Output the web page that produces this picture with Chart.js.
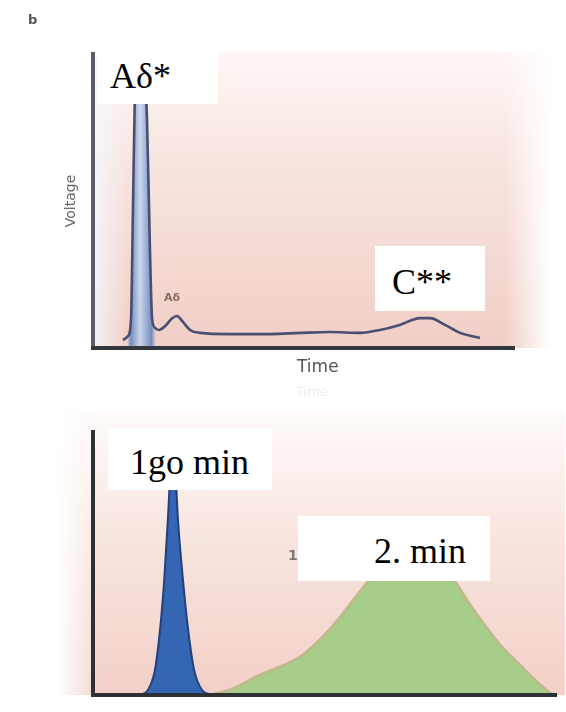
<!DOCTYPE html>
<html>
<head>
<meta charset="utf-8">
<script src="https://cdn.jsdelivr.net/npm/chart.js@4/dist/chart.umd.min.js"></script>
<style>
  html, body { margin:0; padding:0; background:#fff; }
  #wrap { position:relative; width:566px; height:712px; overflow:hidden; background:#fff; }
  canvas { position:absolute; left:0; }
  .lbl { position:absolute; white-space:nowrap; }
  .box { position:absolute; background:#fff; font-family:"Liberation Serif","Times New Roman",serif; font-size:36px; color:#000; line-height:1; }
</style>
</head>
<body>
<div id="wrap">
  <canvas id="top" width="566" height="400" style="top:0"></canvas>
  <canvas id="bot" width="566" height="332" style="top:380px"></canvas>

  <div class="lbl" style="left:28px;top:12px;font:bold 13px 'DejaVu Sans',sans-serif;color:#555;">b</div>
  <div class="lbl" style="left:36px;top:193px;width:68px;text-align:center;font:14px 'DejaVu Sans',sans-serif;color:#666;transform:rotate(-90deg);">Voltage</div>
  <div class="lbl" style="left:297px;top:356px;font:17px 'DejaVu Sans',sans-serif;color:#555;">Time</div>
  <div class="lbl" style="left:296px;top:384px;font:13px 'DejaVu Sans',sans-serif;color:#eee;">Time</div>
  <div class="lbl" style="left:164px;top:291px;font:bold 11px 'DejaVu Sans',sans-serif;color:#8a6a5e;">Aδ</div>
  <div class="lbl" style="left:288px;top:547px;font:bold 14px 'DejaVu Sans',sans-serif;color:#777;">1</div>

  <div class="box" style="left:97px;top:42px;width:121px;height:62px;"><span style="position:absolute;left:13px;top:16px;">Aδ*</span></div>
  <div class="box" style="left:375px;top:246px;width:110px;height:65px;"><span style="position:absolute;left:17px;top:18px;">C**</span></div>
  <div class="box" style="left:108px;top:428px;width:164px;height:62px;"><span style="position:absolute;left:22px;top:16px;">1go min</span></div>
  <div class="box" style="left:298px;top:516px;width:192px;height:65px;"><span style="position:absolute;left:76px;top:17px;">2. min</span></div>
</div>
<script>
// ---- Data (top panel: compound action potential) ----
const topTime    = [7.1, 8.3, 9.0, 9.5, 9.9, 10.7, 11.8, 12.8, 13.5, 14.0, 14.7, 15.6, 17.1, 18.7, 19.9, 21.3, 23.0, 25.4, 32.5, 41.9, 49.1, 56.2, 63.3, 68.0, 72.7, 77.5, 79.9, 83.4, 87.0, 91.7];
const topVoltage = [2.7, 4.0, 9.5, 50, 84, 100, 100, 77, 33, 10, 6.8, 6.1, 7.4, 10, 10.8, 8.8, 6.1, 5.1, 4.7, 4.7, 5.1, 5.4, 5.1, 6.1, 7.8, 10.1, 10.1, 7.8, 5.1, 3.4];

// ---- Data (bottom panel: fast and slow pain) ----
const fastTime  = [10.2, 11.9, 13.4, 14.5, 15.4, 16.2, 16.9, 17.3, 17.7, 18.4, 19.5, 20.6, 21.9, 23.6, 25.8];
const fastValue = [0, 1.9, 9.4, 24.5, 43, 66, 89, 96, 89, 66, 43, 24.5, 9.4, 1.9, 0];
const slowTime  = [25.3, 29.7, 36.1, 44.8, 49.1, 53.5, 56.7, 60.0, 64.3, 70.0, 75.0, 78.0, 81.6, 84.4, 88.1, 92.4, 96.8, 99.4];
const slowValue = [0, 1.9, 7.5, 14.3, 20.8, 29.4, 36.6, 43.5, 48, 49, 48, 43.5, 34, 27.2, 18.9, 11.3, 3.8, 0];

function pts(xs, ys){ return xs.map((x,i)=>({x:x, y:ys[i]})); }

const bgTop = {
  id:'bgTop',
  beforeDraw(chart){
    const c = chart.ctx, a = chart.chartArea;
    c.save();
    const g = c.createLinearGradient(0, a.top, 0, a.bottom);
    g.addColorStop(0, '#fdf7f5');
    g.addColorStop(0.35, '#f8e6e1');
    g.addColorStop(1, '#f0cec6');
    c.fillStyle = g;
    c.fillRect(a.left, a.top, a.right - a.left + 35, a.bottom - a.top);
    const h = c.createLinearGradient(a.right - 10, 0, a.right + 35, 0);
    h.addColorStop(0, 'rgba(255,255,255,0)');
    h.addColorStop(1, 'rgba(255,255,255,1)');
    c.fillStyle = h;
    c.fillRect(a.right - 10, a.top, 45, a.bottom - a.top);
    const l = c.createLinearGradient(a.left, 0, a.left + 35, 0);
    l.addColorStop(0, 'rgba(245,248,255,0.85)');
    l.addColorStop(1, 'rgba(245,248,255,0)');
    c.fillStyle = l;
    c.fillRect(a.left, a.top, 35, a.bottom - a.top);
    c.restore();
  },
  afterDatasetsDraw(chart){
    const c = chart.ctx, a = chart.chartArea;
    c.save();
    c.lineCap = 'butt';
    c.strokeStyle = '#5c5c66'; c.lineWidth = 4;
    c.beginPath(); c.moveTo(a.left, a.top); c.lineTo(a.left, a.bottom + 2); c.stroke();
    c.strokeStyle = '#33363a'; c.lineWidth = 4;
    c.beginPath(); c.moveTo(a.left - 2, a.bottom); c.lineTo(a.right, a.bottom); c.stroke();
    c.restore();
  }
};

const bgBot = {
  id:'bgBot',
  beforeDraw(chart){
    const c = chart.ctx, a = chart.chartArea;
    c.save();
    const g = c.createLinearGradient(0, a.top - 20, 0, a.bottom);
    g.addColorStop(0, '#fefbfa');
    g.addColorStop(0.4, '#f9e7e2');
    g.addColorStop(1, '#f2d0c8');
    c.fillStyle = g;
    c.fillRect(a.left - 35, a.top - 20, a.right - a.left + 45, a.bottom - a.top + 20);
    const h = c.createLinearGradient(a.left - 35, 0, a.left, 0);
    h.addColorStop(0, 'rgba(255,255,255,1)');
    h.addColorStop(1, 'rgba(255,255,255,0.2)');
    c.fillStyle = h;
    c.fillRect(a.left - 35, a.top - 20, 35, a.bottom - a.top + 20);
    c.restore();
  },
  afterDatasetsDraw(chart){
    const c = chart.ctx, a = chart.chartArea;
    c.save();
    c.strokeStyle = '#2e3134'; c.lineWidth = 4;
    c.beginPath(); c.moveTo(a.left, a.top); c.lineTo(a.left, a.bottom + 2); c.stroke();
    c.beginPath(); c.moveTo(a.left - 2, a.bottom); c.lineTo(a.right + 2, a.bottom); c.stroke();
    c.restore();
  }
};

const baseOpts = (pad) => ({
  responsive:false, animation:false,
  layout:{ padding: pad },
  plugins:{ legend:{display:false}, tooltip:{enabled:false} },
  elements:{ point:{ radius:0 } },
  scales:{
    x:{ type:'linear', min:0, max:100, display:false },
    y:{ min:0, max:100, display:false }
  }
});

new Chart(document.getElementById('top'), {
  type:'line',
  data:{ datasets:[{
    data: pts(topTime, topVoltage),
    borderColor:'#4a4e70', borderWidth:2.6,
    cubicInterpolationMode:'monotone',
    fill:'origin',
    backgroundColor:(ctx)=>{
      const ch = ctx.chart; if(!ch.chartArea) return 'rgba(0,0,0,0)';
      const xs = ch.scales.x;
      const x0 = xs.getPixelForValue(8.8), x1 = xs.getPixelForValue(14.2);
      const g = ch.ctx.createLinearGradient(x0 - 3, 0, x1 + 3, 0);
      g.addColorStop(0, 'rgba(120,150,200,0)');
      g.addColorStop(0.12, 'rgba(95,130,190,0.85)');
      g.addColorStop(0.45, 'rgba(200,215,240,0.9)');
      g.addColorStop(0.85, 'rgba(95,130,190,0.85)');
      g.addColorStop(1, 'rgba(120,150,200,0)');
      return g;
    },
    clip:false
  }]},
  options: baseOpts({left:93, top:52, right:51, bottom:52}),
  plugins:[bgTop]
});

new Chart(document.getElementById('bot'), {
  type:'line',
  data:{ datasets:[
    { data: pts(slowTime, slowValue), borderColor:'#bdbb8a', borderWidth:3, fill:'origin', backgroundColor:'#a7cd8b', cubicInterpolationMode:'monotone' },
    { data: pts(fastTime, fastValue), borderColor:'#23407c', borderWidth:2, fill:'origin', backgroundColor:'#3566b3', cubicInterpolationMode:'monotone' }
  ]},
  options: baseOpts({left:93, top:50, right:11, bottom:17}),
  plugins:[bgBot]
});
</script>
</body>
</html>
